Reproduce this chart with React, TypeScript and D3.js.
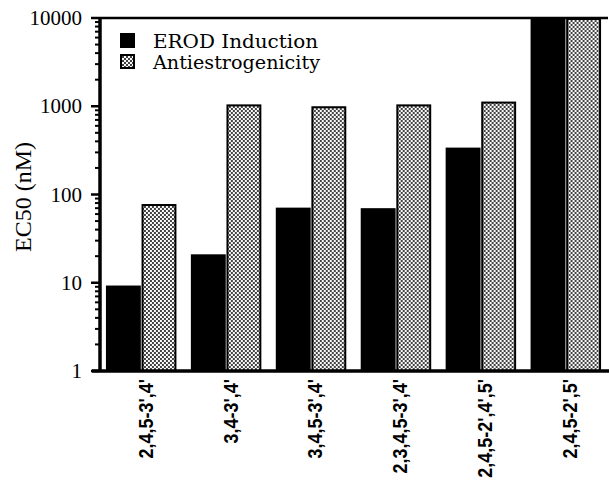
import React, { useEffect, useRef } from 'react';
import * as d3 from 'd3';

const congeners = ["2,4,5-3',4'", "3,4-3',4'", "3,4,5-3',4'", "2,3,4,5-3',4'", "2,4,5-2',4',5'", "2,4,5-2',5'"];
const erodInduction = [9.3, 21, 71, 70, 340, 10000];
const antiestrogenicity = [78, 1050, 1000, 1050, 1130, 10000];
const seriesNames = ['EROD Induction', 'Antiestrogenicity'];
const majorTicks = [1, 10, 100, 1000, 10000];

const times = '"Liberation Serif", serif';

function App() {
    const ref = useRef(null);

    useEffect(() => {
        const svg = d3.select(ref.current);
        svg.selectAll('*').remove();

        const x0 = 100, x1 = 607, yTop = 18, yBot = 371;

        const defs = svg.append('defs');
        const pat = defs.append('pattern')
            .attr('id', 'dots')
            .attr('patternUnits', 'userSpaceOnUse')
            .attr('width', 4)
            .attr('height', 4);
        pat.append('rect').attr('width', 4).attr('height', 4).attr('fill', '#fafafa');
        pat.append('rect').attr('width', 2).attr('height', 2).attr('fill', '#444');
        pat.append('rect').attr('x', 2).attr('y', 2).attr('width', 2).attr('height', 2).attr('fill', '#444');

        const x = d3.scaleBand().domain(congeners).range([x0, x1]).paddingInner(0.17).paddingOuter(0.07);
        const xs = d3.scaleBand().domain(['a', 'b']).range([0, x.bandwidth()]).paddingInner(0.02);
        const y = d3.scaleLog().domain([1, 10000]).range([yBot, yTop]);

        const groups = svg.append('g').selectAll('g')
            .data(congeners)
            .enter()
            .append('g')
            .attr('transform', d => `translate(${x(d)},0)`);

        groups.append('rect')
            .attr('x', xs('a'))
            .attr('width', xs.bandwidth())
            .attr('y', (d, i) => y(erodInduction[i]))
            .attr('height', (d, i) => yBot - y(erodInduction[i]))
            .attr('fill', '#000');

        groups.append('rect')
            .attr('x', xs('b') + 1)
            .attr('width', xs.bandwidth() - 2)
            .attr('y', (d, i) => y(antiestrogenicity[i]) + 1)
            .attr('height', (d, i) => yBot - y(antiestrogenicity[i]) - 1)
            .attr('fill', 'url(#dots)')
            .attr('stroke', '#000')
            .attr('stroke-width', 2);

        // frame top line
        svg.append('line')
            .attr('x1', x0).attr('x2', 608).attr('y1', yTop).attr('y2', yTop)
            .attr('stroke', '#000').attr('stroke-width', 2.5);

        // y axis with log minor ticks
        const ya = svg.append('g');
        ya.append('line')
            .attr('x1', x0).attr('x2', x0).attr('y1', yTop - 1).attr('y2', yBot)
            .attr('stroke', '#000').attr('stroke-width', 3.5);
        const minor = [];
        majorTicks.slice(0, -1).forEach(m => {
            for (let k = 2; k <= 9; k++) minor.push(m * k);
        });
        ya.selectAll('.minor').data(minor).enter().append('line')
            .attr('x1', x0 - 5).attr('x2', x0)
            .attr('y1', d => y(d)).attr('y2', d => y(d))
            .attr('stroke', '#000').attr('stroke-width', 2);
        ya.selectAll('.major').data(majorTicks).enter().append('line')
            .attr('x1', x0 - 9).attr('x2', x0)
            .attr('y1', d => y(d)).attr('y2', d => y(d))
            .attr('stroke', '#000').attr('stroke-width', 2.5);
        ya.selectAll('text').data(majorTicks).enter().append('text')
            .attr('x', 82)
            .attr('y', d => y(d))
            .attr('dy', '0.34em')
            .attr('text-anchor', 'end')
            .attr('font-family', times)
            .attr('font-size', 21)
            .text(d => d);

        svg.append('text')
            .attr('transform', 'translate(31,197) rotate(-90)')
            .attr('text-anchor', 'middle')
            .attr('font-family', times)
            .attr('font-size', 24)
            .text('EC50 (nM)');

        // x axis
        svg.append('line')
            .attr('x1', 92).attr('x2', 609).attr('y1', yBot).attr('y2', yBot)
            .attr('stroke', '#000').attr('stroke-width', 3.5);
        svg.append('g').selectAll('text')
            .data(congeners)
            .enter()
            .append('text')
            .attr('transform', d => `translate(${x(d) + x.bandwidth() / 2 + 4},${yBot + 8}) rotate(-90) scale(1,1.15)`)
            .attr('dy', '0.36em')
            .attr('text-anchor', 'end')
            .attr('font-family', '"Liberation Sans", sans-serif')
            .attr('font-weight', 'bold')
            .attr('font-size', 18)
            .text(d => d);

        // legend
        const lg = svg.append('g').attr('transform', 'translate(120,33)');
        const items = lg.selectAll('g').data(seriesNames).enter().append('g')
            .attr('transform', (d, i) => `translate(0,${i * 21})`);
        items.append('rect')
            .attr('x', (d, i) => i ? 1 : 0)
            .attr('y', (d, i) => i ? 1 : 0)
            .attr('width', (d, i) => i ? 13 : 15)
            .attr('height', (d, i) => i ? 13 : 15)
            .attr('fill', (d, i) => i ? 'url(#dots)' : '#000')
            .attr('stroke', (d, i) => i ? '#000' : 'none')
            .attr('stroke-width', 2);
        items.append('text')
            .attr('x', 33)
            .attr('y', 8)
            .attr('dy', '0.36em')
            .attr('font-family', '"DejaVu Serif", serif')
            .attr('font-size', 18.5)
            .attr('textLength', (d, i) => i ? 167 : 165)
            .attr('lengthAdjust', 'spacingAndGlyphs')
            .text(d => d);
    }, []);

    return (
        <svg ref={ref} width={609} height={482}
            style={{ position: 'absolute', left: 0, top: 0, background: '#fff' }} />
    );
}

export default App;
